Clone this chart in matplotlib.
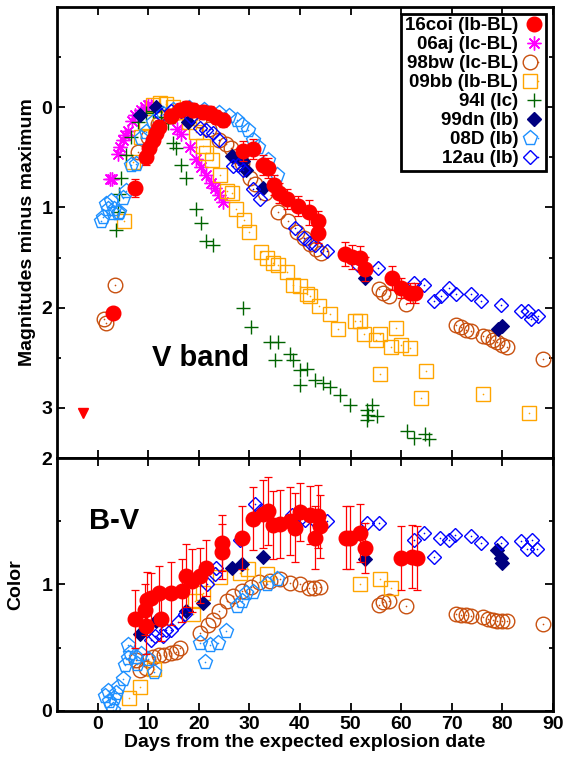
import matplotlib
matplotlib.use('Agg')
import matplotlib.pyplot as plt
from matplotlib.lines import Line2D
from matplotlib.legend_handler import HandlerTuple

# ---- V band (days, mag) ----
coi_v_t = [3.1, 7.5, 9.5, 10.1, 10.9, 11.6, 12.2, 14.6, 16.2, 17.5, 18.8, 20.8, 22.2, 23.5, 24.8,
           28.7, 30.7, 32.7, 33.7, 34.9, 35.9, 37.4, 39.7, 41.8, 43.6, 43.6, 48.9, 50.2, 51.9, 52.9,
           58.1, 60.0, 61.8, 62.8]
coi_v_m = [2.05, 0.81, 0.50, 0.41, 0.33, 0.26, 0.20, 0.09, 0.03, 0.01, 0.03, 0.05, 0.06, 0.10, 0.13,
           0.44, 0.42, 0.58, 0.61, 0.78, 0.86, 0.92, 0.99, 1.05, 1.14, 1.25, 1.46, 1.49, 1.50, 1.61,
           1.70, 1.80, 1.85, 1.85]
coi_v_e = [0.0, 0.09, 0.08, 0.07, 0.07, 0.07, 0.07, 0.07, 0.07, 0.07, 0.07, 0.07, 0.07, 0.07, 0.07,
           0.10, 0.10, 0.10, 0.10, 0.10, 0.10, 0.10, 0.10, 0.12, 0.10, 0.10, 0.12, 0.12, 0.12, 0.12,
           0.12, 0.10, 0.10, 0.10]
coi_lim_t = [-2.8]
coi_lim_m = [3.05]

aj_v_t = [2.5, 2.9, 4.0, 4.5, 5.0, 5.5, 6.0, 6.9, 7.5, 8.6, 9.3, 9.9, 10.6, 15.8, 16.5, 18.2, 19.5,
          20.5, 21.5, 22.5, 23.2, 24.0, 24.8]
aj_v_m = [0.72, 0.72, 0.47, 0.40, 0.33, 0.28, 0.24, 0.14, 0.08, 0.03, 0.00, -0.02, -0.01, 0.22, 0.27,
          0.40, 0.52, 0.60, 0.68, 0.76, 0.81, 0.88, 0.95]

bw_v_t = [1.3, 1.7, 3.5, 8.0, 10.0, 12.0, 14.0, 16.0, 18.5, 20.0, 22.0, 24.1, 25.3, 26.3, 27.5, 28.5,
          30.1, 31.1, 33.1, 35.7, 37.7, 39.4, 40.7, 42.0, 43.2, 44.2, 55.6, 56.5, 57.5, 60.9, 70.8,
          71.8, 72.8, 73.7, 76.1, 77.1, 78.1, 79.0, 80.0, 81.0, 88.1]
bw_v_m = [2.11, 2.15, 1.77, 0.45, 0.30, 0.17, 0.09, 0.05, 0.08, 0.13, 0.22, 0.33, 0.37, 0.41, 0.49,
          0.56, 0.71, 0.77, 0.86, 1.05, 1.14, 1.24, 1.30, 1.36, 1.41, 1.45, 1.81, 1.85, 1.88, 1.96,
          2.17, 2.19, 2.22, 2.23, 2.28, 2.29, 2.32, 2.34, 2.37, 2.39, 2.51]

bb_v_t = [5.3, 7.0, 8.5, 9.5, 10.9, 12.3, 13.6, 15.0, 16.5, 18.0, 19.5, 20.8, 21.5, 22.6, 24.3, 25.5,
          26.5, 27.3, 28.9, 30.0, 32.4, 33.4, 34.7, 35.6, 37.5, 38.7, 40.0, 41.3, 42.0, 43.7, 46.0,
          47.6, 50.9, 51.9, 52.6, 55.0, 55.9, 57.9, 58.9, 59.9, 61.8, 55.9, 65.0, 64.0, 76.1, 85.3]
bb_v_m = [1.14, 0.55, 0.30, 0.15, -0.02, -0.04, -0.03, 0.00, 0.05, 0.15, 0.25, 0.39, 0.46, 0.53, 0.68,
          0.84, 0.86, 1.02, 1.13, 1.24, 1.44, 1.50, 1.55, 1.57, 1.64, 1.77, 1.78, 1.86, 1.88, 1.98,
          2.06, 2.21, 2.13, 2.13, 2.26, 2.32, 2.26, 2.39, 2.20, 2.37, 2.40, 2.66, 2.63, 2.90, 2.86, 3.05]

i94_v_t = [3.6, 4.0, 4.3, 4.6, 5.6, 6.6, 8.0, 9.5, 11.0, 12.5, 13.9, 14.9, 15.6, 16.5, 17.5, 19.5,
           20.5, 21.5, 22.8, 28.8, 30.4, 34.1, 35.7, 35.1, 38.0, 38.7, 40.0, 40.0, 41.3, 43.0, 44.6,
           46.0, 48.0, 49.9, 53.2, 53.5, 54.2, 55.2, 53.2, 61.2, 62.5, 64.8, 65.5]
i94_v_m = [1.22, 1.05, 0.87, 0.71, 0.48, 0.30, 0.15, 0.06, 0.04, 0.10, 0.16, 0.36, 0.41, 0.58, 0.71,
           1.02, 1.15, 1.33, 1.37, 2.00, 2.19, 2.34, 2.34, 2.52, 2.46, 2.52, 2.62, 2.77, 2.61, 2.72,
           2.75, 2.79, 2.87, 2.97, 3.02, 3.07, 2.97, 3.08, 3.12, 3.23, 3.30, 3.26, 3.31]

dn_v_t = [8.3, 11.6, 17.9, 26.5, 28.8, 29.4, 32.7, 52.9, 79.2, 80.0]
dn_v_m = [0.08, 0.00, 0.15, 0.49, 0.54, 0.63, 0.81, 1.70, 2.21, 2.18]

d08_v_t = [0.7, 1.0, 1.7, 2.0, 2.7, 3.0, 3.3, 4.0, 4.3, 5.0, 5.6, 6.6, 7.6, 8.6, 9.5, 11.0, 13.0,
           15.0, 18.0, 21.0, 24.0, 26.0, 27.5, 28.5, 29.8, 30.8, 31.8, 33.7, 35.4]
d08_v_m = [1.14, 1.10, 0.97, 1.02, 0.94, 1.06, 1.02, 1.06, 1.05, 0.91, 0.84, 0.58, 0.57, 0.31, 0.25,
           0.15, 0.07, 0.03, 0.01, 0.03, 0.06, 0.09, 0.13, 0.18, 0.23, 0.33, 0.40, 0.53, 0.68]

au_v_t = [12.5, 14.5, 16.5, 18.5, 20.2, 21.5, 22.8, 24.1, 26.8, 27.8, 28.8, 30.8, 32.1, 39.0, 40.7,
          42.0, 43.0, 45.3, 51.4, 55.4, 62.5, 64.5, 66.5, 67.8, 69.4, 70.8, 73.7, 75.7, 79.7, 83.7,
          85.0, 85.7, 87.0]
au_v_m = [0.08, 0.04, 0.04, 0.10, 0.21, 0.23, 0.26, 0.33, 0.59, 0.58, 0.63, 0.82, 0.92, 1.20, 1.30,
          1.35, 1.37, 1.43, 1.57, 1.60, 1.75, 1.77, 1.93, 1.88, 1.80, 1.86, 1.86, 1.93, 1.97, 2.03,
          2.03, 2.11, 2.08]

# ---- B-V colour (days, colour) ----
coi_c_t = [7.5, 9.3, 9.6, 9.7, 10.6, 12.2, 12.6, 14.6, 16.7, 17.5, 18.7, 20.2, 21.4, 24.5, 24.5,
           28.6, 30.8, 32.7, 33.7, 34.7, 36.0, 38.0, 39.0, 40.0, 42.0, 43.6, 44.0, 42.9, 49.0, 49.9,
           51.9, 52.9, 59.9, 62.2, 63.2]
coi_c_v = [0.73, 0.80, 0.67, 0.88, 0.89, 0.93, 0.73, 0.93, 0.95, 1.07, 1.03, 1.07, 1.13, 1.33, 1.26,
           1.37, 1.52, 1.56, 1.58, 1.47, 1.48, 1.50, 1.45, 1.57, 1.55, 1.54, 1.46, 1.37, 1.37, 1.37,
           1.41, 1.29, 1.21, 1.22, 1.21]
coi_c_e = [0.23, 0.20, 0.22, 0.22, 0.20, 0.22, 0.18, 0.25, 0.25, 0.25, 0.25, 0.22, 0.22, 0.22, 0.22,
           0.25, 0.25, 0.27, 0.27, 0.27, 0.27, 0.27, 0.27, 0.23, 0.23, 0.25, 0.25, 0.25, 0.25, 0.25,
           0.23, 0.20, 0.25, 0.25, 0.25]

bw_c_t = [7.6, 8.3, 9.6, 9.9, 11.0, 12.2, 13.2, 14.6, 15.5, 16.2, 20.2, 21.8, 22.8, 24.1, 25.5, 26.8,
          28.5, 30.4, 32.0, 34.0, 36.0, 38.0, 40.0, 41.7, 42.7, 44.0, 55.6, 56.5, 57.5, 60.9, 70.8,
          71.8, 72.8, 73.7, 76.1, 77.1, 78.1, 79.0, 80.0, 81.0, 88.1]
bw_c_v = [0.40, 0.32, 0.34, 0.40, 0.43, 0.44, 0.44, 0.46, 0.47, 0.50, 0.62, 0.68, 0.72, 0.79, 0.87,
          0.91, 0.95, 0.98, 1.02, 1.03, 1.04, 1.01, 1.00, 0.97, 0.97, 0.98, 0.84, 0.86, 0.87, 0.83,
          0.77, 0.76, 0.76, 0.75, 0.74, 0.73, 0.72, 0.71, 0.71, 0.71, 0.69]

bb_c_t = [6.3, 8.3, 11.2, 18.8, 19.2, 20.8, 24.3, 28.1, 29.8, 33.4, 51.8, 55.9, 57.9]
bb_c_v = [0.10, 0.19, 0.33, 0.77, 0.87, 0.93, 1.06, 1.09, 1.12, 1.08, 1.00, 1.04, 0.97]

dn_c_t = [8.3, 11.6, 17.5, 20.8, 26.5, 28.6, 32.7, 52.9, 79.0, 79.7, 80.0]
dn_c_v = [0.61, 0.71, 0.79, 0.85, 1.13, 1.16, 1.22, 1.20, 1.27, 1.21, 1.17]

d08_c_t = [1.5, 2.0, 2.3, 2.7, 3.0, 3.2, 3.6, 4.0, 5.0, 5.5, 6.0, 6.0, 6.5, 7.6, 7.9, 8.6, 9.9, 11.2,
           20.2, 21.2, 22.2, 23.8, 25.3, 27.5, 28.5, 29.4, 30.8, 33.4, 35.4]
d08_c_v = [0.12, 0.16, 0.08, 0.05, 0.01, 0.10, 0.14, 0.19, 0.25, 0.36, 0.42, 0.52, 0.46, 0.43, 0.37,
           0.45, 0.41, 0.31, 0.54, 0.39, 0.52, 0.54, 0.63, 0.83, 0.87, 0.93, 0.94, 1.00, 1.04]

au_c_t = [10.6, 11.3, 12.9, 13.6, 14.6, 15.9, 17.3, 21.6, 23.2, 23.5, 28.1, 31.1, 32.2, 38.5, 40.5,
          41.0, 43.0, 45.3, 53.2, 55.6, 62.5, 64.5, 66.5, 67.7, 69.4, 70.6, 73.7, 75.7, 79.7, 83.7,
          84.9, 85.8, 86.8]
au_c_v = [0.56, 0.59, 0.59, 0.64, 0.64, 0.70, 0.77, 1.00, 1.08, 1.13, 1.35, 1.64, 1.58, 1.55, 1.53,
          1.51, 1.50, 1.50, 1.49, 1.49, 1.35, 1.41, 1.22, 1.37, 1.35, 1.39, 1.38, 1.33, 1.33, 1.34,
          1.28, 1.35, 1.28]

labels = ['16coi (Ib-BL)', '06aj (Ic-BL)', '98bw (Ic-BL)', '09bb (Ib-BL)',
          '94I (Ic)', '99dn (Ib)', '08D (Ib)', '12au (Ib)']

plt.rcParams['font.family'] = ['Liberation Sans', 'DejaVu Sans']
plt.rcParams['font.weight'] = 'bold'
plt.rcParams['axes.labelweight'] = 'bold'

# marker styles: (marker, colour, size, filled, centre dot)
st_aj = ((8, 2, 0), '#ff00ff', 10.0, False, False)
st_bw = ('o', '#c8500f', 10.5, False, True)
st_bb = ('s', '#ffa500', 10.0, False, True)
st_94 = ('+', '#006400', 10.5, False, False)
st_dn = ('D', '#000080', 6.8, True, False)
st_08 = ('p', '#1e90ff', 11.0, False, True)
st_au = ('D', '#0000ff', 6.8, False, True)
red_ms = 10.5


def draw(ax, t, y, st):
    mk, col, ms, filled, dot = st
    if filled:
        ax.plot(t, y, ls='none', marker=mk, ms=ms, mfc=col, mec=col, mew=0.8)
    else:
        ax.plot(t, y, ls='none', marker=mk, ms=ms, mfc='none', mec=col, mew=1.0)
    if dot:
        ax.plot(t, y, ls='none', marker='o', ms=1.2, mfc=col, mec='none')


def handle(st):
    mk, col, ms, filled, dot = st
    h = Line2D([], [], ls='none', marker=mk, ms=ms, mec=col,
               mfc=col if filled else 'none', mew=1.0)
    if dot:
        d = Line2D([], [], ls='none', marker='o', ms=1.2, mfc=col, mec='none')
        return (h, d)
    return h


fig = plt.figure(figsize=(5.72, 7.63), dpi=100)
ax1 = fig.add_axes([0.0997, 0.3997, 0.8671, 0.5911])
ax2 = fig.add_axes([0.0997, 0.0682, 0.8671, 0.3315])

# top panel
draw(ax1, aj_v_t, aj_v_m, st_aj)
draw(ax1, bw_v_t, bw_v_m, st_bw)
draw(ax1, bb_v_t, bb_v_m, st_bb)
draw(ax1, i94_v_t, i94_v_m, st_94)
draw(ax1, dn_v_t, dn_v_m, st_dn)
draw(ax1, d08_v_t, d08_v_m, st_08)
draw(ax1, au_v_t, au_v_m, st_au)
ax1.errorbar(coi_v_t, coi_v_m, yerr=coi_v_e, fmt='o', color='red', ms=red_ms, elinewidth=0.9,
             capsize=3, capthick=0.9, zorder=5)
ax1.plot(coi_lim_t, coi_lim_m, ls='none', marker='v', color='red', ms=7)

# bottom panel
draw(ax2, bw_c_t, bw_c_v, st_bw)
draw(ax2, bb_c_t, bb_c_v, st_bb)
draw(ax2, dn_c_t, dn_c_v, st_dn)
draw(ax2, d08_c_t, d08_c_v, st_08)
draw(ax2, au_c_t, au_c_v, st_au)
ax2.errorbar(coi_c_t, coi_c_v, yerr=coi_c_e, fmt='o', color='red', ms=red_ms, elinewidth=0.9,
             capsize=3, capthick=0.9, zorder=5)

for ax in (ax1, ax2):
    ax.set_xlim(-8, 90)
    ax.set_xticks(range(0, 91, 10))
    ax.tick_params(which='major', direction='in', length=6, width=1.3, top=True, right=True,
                   labelsize=14)
    ax.tick_params(which='minor', direction='in', length=3, width=1.3, top=True, right=True)
    for s in ax.spines.values():
        s.set_linewidth(2)

ax1.set_ylim(3.5, -1)
ax1.set_yticks([0, 1, 2, 3])
ax1.set_yticks([-0.5, 0.5, 1.5, 2.5], minor=True)
ax1.tick_params(labelbottom=False)
ax1.set_ylabel('Magnitudes minus maximum', fontsize=14, labelpad=4)
ax1.text(10.7, 2.5, 'V band', fontsize=21, fontweight='bold', ha='left', va='center')

ax2.set_ylim(0, 2)
ax2.set_yticks([0, 1, 2])
ax2.set_yticks([0.5, 1.5], minor=True)
ax2.set_ylabel('Color', fontsize=14, labelpad=12)
ax2.set_xlabel('Days from the expected explosion date', fontsize=14, labelpad=1)
ax2.text(-1.7, 1.5, 'B-V', fontsize=21, fontweight='bold', ha='left', va='center')

handles = [Line2D([], [], ls='none', marker='o', ms=red_ms, color='red'),
           handle(st_aj), handle(st_bw), handle(st_bb), handle(st_94),
           handle(st_dn), handle(st_08), handle(st_au)]
leg = ax1.legend(handles, labels, loc='upper right', markerfirst=False, fancybox=False,
                 edgecolor='black', framealpha=1, fontsize=13.5, handlelength=0.9,
                 handletextpad=0.4, labelspacing=0.1, borderpad=0.2, borderaxespad=0.35,
                 handler_map={tuple: HandlerTuple(ndivide=None, pad=0)})
leg.get_frame().set_linewidth(2)

fig.savefig('out.png', dpi=100)
